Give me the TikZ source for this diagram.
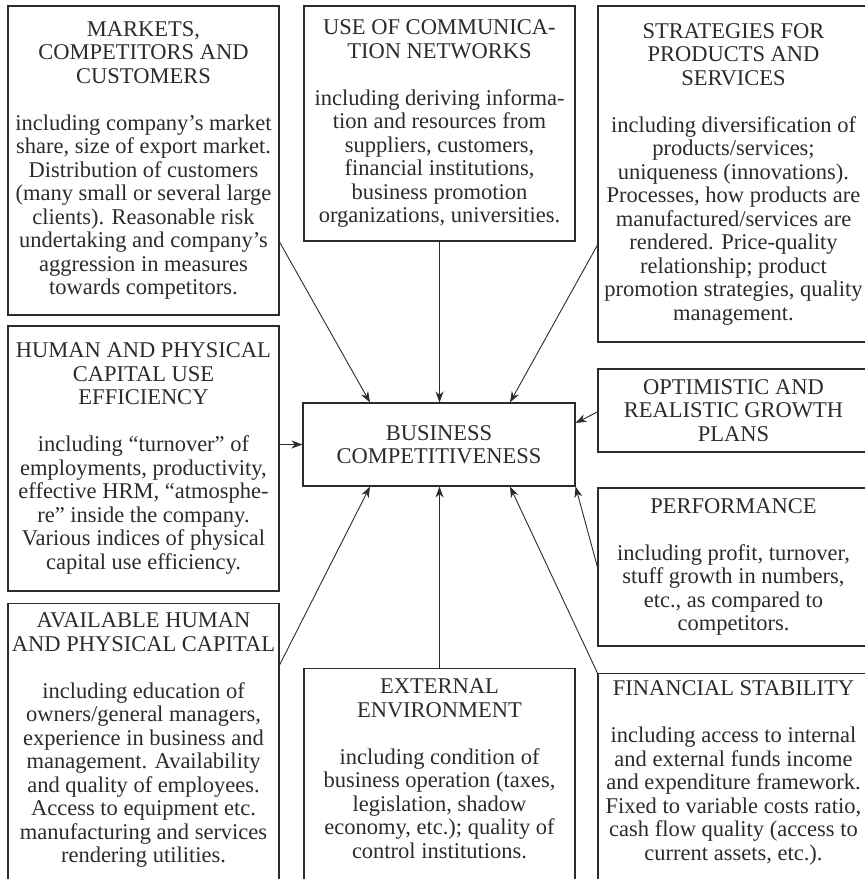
\documentclass[tikz,border=0pt]{standalone}
\usepackage{fontspec}
\setmainfont{Liberation Serif}
\usetikzlibrary{arrows.meta}
\definecolor{ink}{HTML}{2B2B2B}
\begin{document}
\begin{tikzpicture}[x=1pt,y=-1pt,
  box/.style={draw=ink, line width=1.1pt, text=ink, inner sep=0pt, align=center,
    minimum width=271pt, font=\fontsize{22.5}{23.5}\selectfont},
  topbox/.style={draw=ink, line width=1.1pt, text=ink, inner sep=0pt, anchor=north,
    font=\fontsize{22.5}{23.5}\selectfont},
  arr/.style={draw=ink, line width=0.9pt, -{Stealth[length=11pt,width=8pt,inset=3.5pt]}}]
\useasboundingbox (0,0) rectangle (865,879);
\clip (0,0) rectangle (865,879);

\node[box, minimum height=309pt] (mkt) at (143.5,160.5)
 {MARKETS,\\COMPETITORS AND\\CUSTOMERS\\[23.5pt]including company’s market\\share, size of export market.\\Distribution of customers\\(many small or several large\\clients). Reasonable risk\\undertaking and company’s\\aggression in measures\\towards competitors.};

\node[box, minimum height=235pt] (com) at (439.5,123.5)
 {USE OF COMMUNICA-\\TION NETWORKS\\[23.5pt]including deriving informa-\\tion and resources from\\suppliers, customers,\\financial institutions,\\business promotion\\organizations, universities.};

\node[box, minimum height=336pt] (str) at (733.5,174)
 {STRATEGIES FOR\\PRODUCTS AND\\SERVICES\\[23.5pt]including diversification of\\products/services;\\uniqueness (innovations).\\Processes, how products are\\manufactured/services are\\rendered. Price-quality\\relationship; product\\promotion strategies, quality\\management.};

\node[box, minimum height=265pt] (hum) at (143.5,458.5)
 {HUMAN AND PHYSICAL\\CAPITAL USE\\EFFICIENCY\\[23.5pt]including “turnover” of\\employments, productivity,\\effective HRM, “atmosphe-\\re” inside the company.\\Various indices of physical\\capital use efficiency.};

\node[box, minimum height=83pt] (opt) at (733.5,410.5)
 {OPTIMISTIC AND\\REALISTIC GROWTH\\PLANS};

\node[box, minimum height=158pt] (perf) at (733.5,567)
 {PERFORMANCE\\[23.5pt]including profit, turnover,\\stuff growth in numbers,\\etc., as compared to\\competitors.};

\node[box, minimum width=272pt, minimum height=83pt] (bc) at (439,444.5)
 {BUSINESS\\COMPETITIVENESS};

\node[topbox] (avl) at (143.5,603)
 {\parbox[t][330pt][t]{271pt}{\centering\rule{0pt}{24pt}AVAILABLE HUMAN\\AND PHYSICAL CAPITAL\\[23.5pt]including education of\\owners/general managers,\\experience in business and\\management. Availability\\and quality of employees.\\Access to equipment etc.\\manufacturing and services\\rendering utilities.}};

\node[topbox] (ext) at (439.5,668)
 {\parbox[t][330pt][t]{271pt}{\centering\rule{0pt}{25pt}EXTERNAL\\ENVIRONMENT\\[23.5pt]including condition of\\business operation (taxes,\\legislation, shadow\\economy, etc.); quality of\\control institutions.}};

\node[topbox] (fin) at (733.5,673)
 {\parbox[t][330pt][t]{271pt}{\centering\rule{0pt}{22pt}FINANCIAL STABILITY\\[23.5pt]including access to internal\\and external funds income\\and expenditure framework.\\Fixed to variable costs ratio,\\cash flow quality (access to\\current assets, etc.).}};

% connectors
\draw[arr] ([yshift=-81.5pt]mkt.east) -- ([xshift=-69pt]bc.north);
\draw[arr] (com.south) -- (com.south |- bc.north);
\draw[arr] ([yshift=-71pt]str.west) -- ([xshift=71pt]bc.north);
\draw[arr] (hum.east |- bc.west) -- (bc.west);
\draw[arr] ([yshift=-1.5pt]opt.west) -- ([yshift=21.5pt]bc.east);
\draw[arr] (perf.west) -- (bc.south east);
\draw[arr] ([yshift=-62pt]avl.north east) -- ([xshift=-69pt]bc.south);
\draw[arr] (ext.north) -- (ext.north |- bc.south);
\draw[arr] (fin.north west) -- ([xshift=71pt]bc.south);
\end{tikzpicture}
\end{document}
